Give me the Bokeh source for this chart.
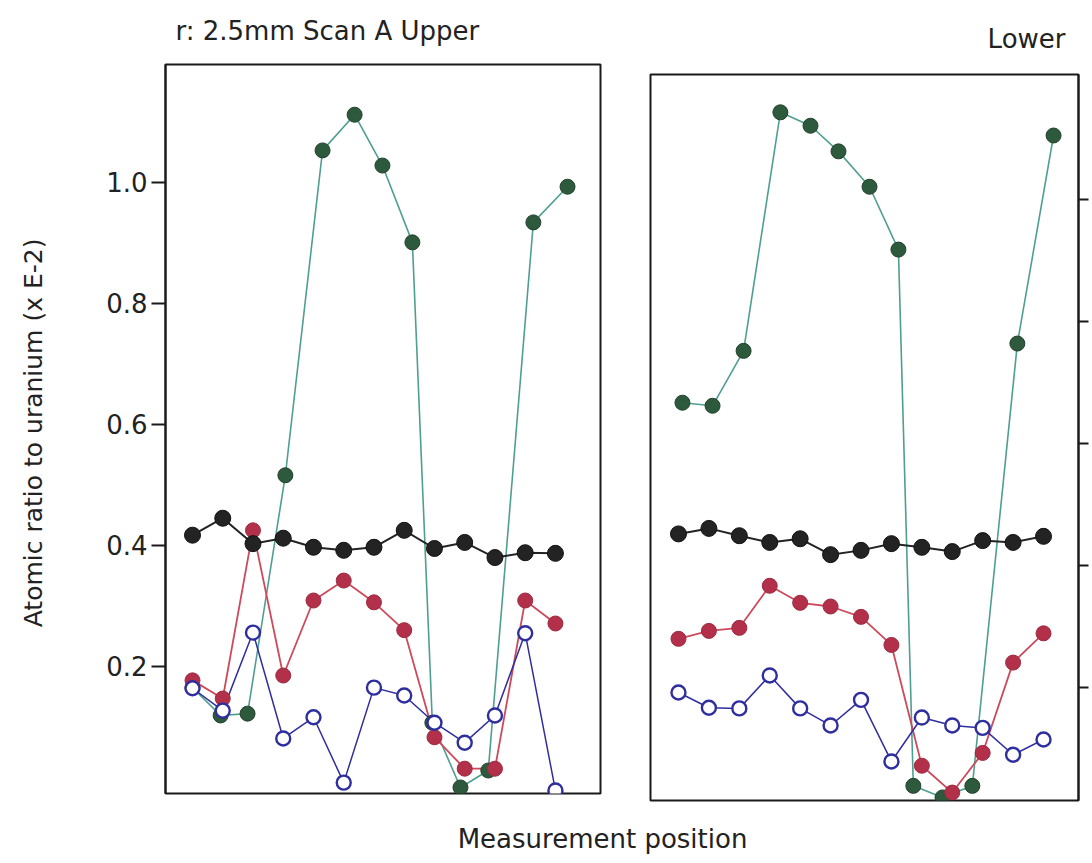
from bokeh.plotting import figure
from bokeh.layouts import column, row
from bokeh.models import Range1d, FixedTicker, PrintfTickFormatter, Label, CustomLabelingPolicy
from bokeh.embed import file_html
from bokeh.resources import INLINE

FONT = "DejaVu Sans"

# ---- data ----
positions = [1, 2, 3, 4, 5, 6, 7, 8, 9, 10, 11, 12, 13]

# Upper (left panel)
upper_black = [0.417, 0.445, 0.403, 0.412, 0.397, 0.392, 0.397, 0.425, 0.395, 0.405, 0.380, 0.388, 0.387]
upper_red = [0.177, 0.147, 0.425, 0.185, 0.309, 0.342, 0.306, 0.260, 0.083, 0.031, 0.031, 0.309, 0.271]
upper_blue = [0.164, 0.127, 0.256, 0.081, 0.116, 0.008, 0.165, 0.152, 0.107, 0.074, 0.119, 0.255, -0.005]
upper_green_pos = [1.0, 1.93, 2.82, 4.07, 5.30, 6.36, 7.28, 8.27, 8.93, 9.86, 10.78, 12.27, 13.40]
upper_green = [0.165, 0.119, 0.122, 0.516, 1.053, 1.112, 1.028, 0.901, 0.107, 0.0, 0.028, 0.934, 0.993]

# Lower (right panel)
lower_black = [0.452, 0.461, 0.449, 0.438, 0.444, 0.418, 0.425, 0.436, 0.430, 0.423, 0.441, 0.438, 0.448]
lower_red = [0.280, 0.293, 0.298, 0.367, 0.339, 0.333, 0.316, 0.270, 0.072, 0.028, 0.093, 0.241, 0.289]
lower_blue = [0.192, 0.167, 0.166, 0.220, 0.166, 0.138, 0.180, 0.079, 0.151, 0.138, 0.134, 0.090, 0.115]
lower_green_pos = [1.13, 2.12, 3.14, 4.35, 5.34, 6.26, 7.28, 8.23, 8.72, 9.68, 10.66, 12.14, 13.33]
lower_green = [0.667, 0.662, 0.752, 1.143, 1.121, 1.079, 1.021, 0.918, 0.039, 0.020, 0.039, 0.764, 1.105]

y_ticks = [0.2, 0.4, 0.6, 0.8, 1.0]

BLACK = "#232323"
RED_LINE = "#cc4a5c"
RED_DOT = "#b3304a"
BLUE = "#2e2e9e"
GREEN_LINE = "#4f9f90"
GREEN_DOT = "#2d5a3c"
TEXT = "#222222"


def draw_series(p, gx, gy, bx, by, rx, ry, ux, uy):
    p.line(gx, gy, line_color=GREEN_LINE, line_width=1.6)
    p.line(rx, ry, line_color=RED_LINE, line_width=1.8)
    p.line(bx, by, line_color=BLACK, line_width=2)
    p.line(ux, uy, line_color=BLUE, line_width=1.5)
    p.scatter(gx, gy, size=15, fill_color=GREEN_DOT, line_color="#24402c", line_width=1)
    p.scatter(rx, ry, size=15, fill_color=RED_DOT, line_color="#9c2a40", line_width=1)
    p.scatter(bx, by, size=16, fill_color=BLACK, line_color="#111111", line_width=1)
    p.scatter(ux, uy, size=14, fill_color="white", line_color=BLUE, line_width=2.4)


def style_frame(p):
    p.grid.visible = False
    p.outline_line_color = "#1a1a1a"
    p.outline_line_width = 2
    p.background_fill_color = "white"
    p.border_fill_color = "white"


def style_axis(ax, tick_out):
    ax.ticker = FixedTicker(ticks=y_ticks)
    ax.major_tick_out = tick_out
    ax.major_tick_in = 0
    ax.minor_tick_out = 0
    ax.minor_tick_in = 0
    ax.major_tick_line_width = 2
    ax.axis_line_width = 2
    ax.axis_line_color = "#1a1a1a"
    ax.major_tick_line_color = "#1a1a1a"


# ---- top strip with panel titles ----
TOP_H = 56
p0 = figure(width=1092, height=TOP_H, x_range=Range1d(0, 1092), y_range=Range1d(0, TOP_H),
            output_backend="svg", toolbar_location=None, x_axis_location=None, y_axis_location=None,
            min_border=0)
p0.grid.visible = False
p0.outline_line_color = None
p0.add_layout(Label(x=175, y=26, text="r: 2.5mm  Scan A  Upper", text_align="left",
                    text_baseline="middle", text_font=FONT, text_font_size="26px", text_color=TEXT))
p0.add_layout(Label(x=1065, y=18, text="Lower", text_align="right",
                    text_baseline="middle", text_font=FONT, text_font_size="26px", text_color=TEXT))

# ---- left panel (Upper) ----
p1 = figure(width=625, height=754, x_range=Range1d(0.107, 14.49), y_range=Range1d(-0.01, 1.195),
            output_backend="svg", toolbar_location=None, x_axis_location=None,
            min_border_left=165, min_border_right=25, min_border_top=8, min_border_bottom=17)
style_frame(p1)
ax = p1.yaxis[0]
style_axis(ax, 14)
ax.formatter = PrintfTickFormatter(format="%.1f")
ax.major_label_text_font = FONT
ax.major_label_text_font_size = "26px"
ax.major_label_text_color = TEXT
ax.major_label_standoff = 4
ax.axis_label = "Atomic ratio to uranium  (x E-2)"
ax.axis_label_text_font = FONT
ax.axis_label_text_font_size = "25px"
ax.axis_label_text_font_style = "normal"
ax.axis_label_text_color = TEXT
ax.axis_label_standoff = 55

draw_series(p1, upper_green_pos, upper_green, positions, upper_black,
            positions, upper_red, positions, upper_blue)

# ---- right panel (Lower) ----
p2 = figure(width=467, height=754, x_range=Range1d(0.08, 14.15), y_range=Range1d(0.015, 1.205),
            output_backend="svg", toolbar_location=None, x_axis_location=None, y_axis_location="right",
            min_border_left=25, min_border_right=14, min_border_top=18, min_border_bottom=10)
style_frame(p2)
ax2 = p2.yaxis[0]
style_axis(ax2, 10)
ax2.major_label_standoff = 0
ax2.major_label_text_font_size = "1px"
ax2.major_label_policy = CustomLabelingPolicy(
    code="for (let i = 0; i < indices.size; i++) { indices.unset(i) } return indices")

draw_series(p2, lower_green_pos, lower_green, positions, lower_black,
            positions, lower_red, positions, lower_blue)

# ---- shared x label ----
p3 = figure(width=1092, height=53, x_range=Range1d(0, 1092), y_range=Range1d(0, 53),
            output_backend="svg", toolbar_location=None, x_axis_location=None, y_axis_location=None,
            min_border=0)
p3.grid.visible = False
p3.outline_line_color = None
p3.add_layout(Label(x=602, y=25, text="Measurement position", text_align="center",
                    text_baseline="middle", text_font=FONT, text_font_size="26px", text_color=TEXT))

layout = column(p0, row(column(p1), column(p2)), p3)
open("out.html", "w").write(file_html(layout, INLINE))
